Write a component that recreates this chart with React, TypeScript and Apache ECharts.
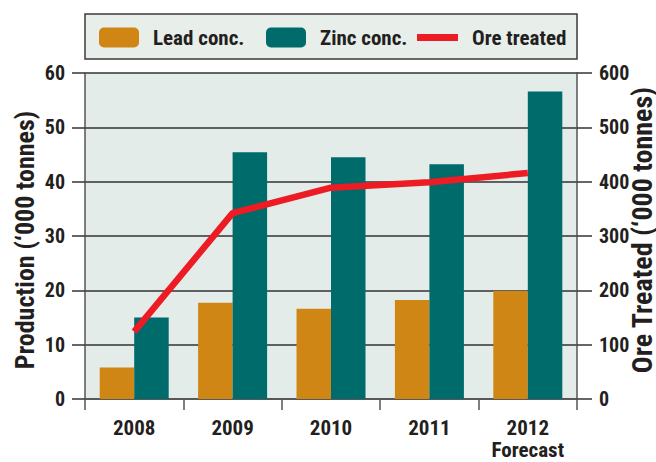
import React, { useEffect, useRef } from "react";
import * as echarts from "echarts";

const years = ["2008", "2009", "2010", "2011", "2012\nForecast"];
const leadConc = [5.8, 17.7, 16.6, 18.2, 19.9];
const zincConc = [15.0, 45.4, 44.5, 43.2, 56.6];
const oreTreated = [124, 342, 389, 399, 416];
const leftTicks = { min: 0, max: 60, interval: 10 };
const rightTicks = { min: 0, max: 600, interval: 100 };

const FONT = "'Roboto Condensed', 'Liberation Sans Narrow', 'Arial Narrow', 'DejaVu Sans Condensed', sans-serif";
const TXT = "#231f20";
const LEAD = "#cf8614";
const ZINC = "#006b6b";
const ORE = "#ed1c24";

export default function App() {
  const ref = useRef<HTMLDivElement>(null);
  useEffect(() => {
    if (!ref.current) return;
    const chart = echarts.init(ref.current, null, { renderer: "svg" });
    const legendText = { fontFamily: FONT, fontWeight: "bold", fontSize: 21, color: TXT, padding: [0, 0, 0, 9] };
    chart.setOption({
      animation: false,
      graphic: [
        {
          type: "rect",
          shape: { x: 85, y: 14, width: 492, height: 45 },
          style: { fill: "#e8eeea", stroke: "#3a3a3a", lineWidth: 1.5 },
          z: -1,
        },
      ],
      legend: [
        { data: ["Lead conc."], left: 94, top: 22, itemWidth: 40, itemHeight: 20, textStyle: legendText, padding: 5 },
        { data: ["Zinc conc."], left: 261, top: 22, itemWidth: 40, itemHeight: 20, textStyle: legendText, padding: 5 },
        {
          data: [{ name: "Ore treated", icon: "path://M0 0H41V7H0Z" }],
          left: 412, top: 22, itemWidth: 41, itemHeight: 20, textStyle: legendText, padding: 5,
        },
      ],
      grid: {
        left: 85, right: 79, top: 73, bottom: 63,
        show: true, backgroundColor: "#e3ece8", borderWidth: 0,
        outerBoundsMode: "none",
        containLabel: false,
      },
      xAxis: {
        type: "category",
        data: years,
        axisLine: { show: true, lineStyle: { color: "#555", width: 1.5 } },
        axisTick: { show: true, length: 11, alignWithLabel: false, lineStyle: { color: "#555", width: 1.5 } },
        axisLabel: { interval: 0, fontFamily: FONT, fontWeight: "bold", fontSize: 21, color: TXT, margin: 18, lineHeight: 22 },
      },
      yAxis: [
        {
          type: "value",
          ...leftTicks,
          position: "left",
          name: "Production (‘000 tonnes)",
          nameLocation: "middle",
          nameRotate: 90,
          nameGap: 47,
          nameMoveOverlap: false,
          nameTextStyle: { fontFamily: FONT, fontWeight: "bold", fontSize: 26, color: TXT, padding: [0, 8, 0, 0] },
          axisLine: { show: true, lineStyle: { color: "#555", width: 1.5 } },
          axisTick: { show: true, length: 13, lineStyle: { color: "#333", width: 1.5 } },
          splitLine: { show: true, lineStyle: { color: "#333", width: 1.5 } },
          axisLabel: { fontFamily: FONT, fontWeight: "bold", fontSize: 20, color: TXT, margin: 20 },
        },
        {
          type: "value",
          ...rightTicks,
          position: "right",
          name: "Ore Treated (‘000 tonnes)",
          nameLocation: "middle",
          nameRotate: 90,
          nameGap: 51,
          nameMoveOverlap: false,
          nameTextStyle: { fontFamily: FONT, fontWeight: "bold", fontSize: 28, color: TXT, padding: [0, 0, 0, 12] },
          axisLine: { show: true, lineStyle: { color: "#555", width: 1.5 } },
          axisTick: { show: true, length: 15, lineStyle: { color: "#333", width: 1.5 } },
          splitLine: { show: false },
          axisLabel: { fontFamily: FONT, fontWeight: "bold", fontSize: 20, color: TXT, margin: 22 },
        },
      ],
      series: [
        {
          name: "Lead conc.",
          type: "bar",
          data: leadConc,
          barWidth: 34.5,
          barGap: "0%",
          itemStyle: { color: LEAD },
        },
        {
          name: "Zinc conc.",
          type: "bar",
          data: zincConc,
          barWidth: 34.5,
          barGap: "0%",
          itemStyle: { color: ZINC },
        },
        {
          name: "Ore treated",
          type: "line",
          yAxisIndex: 1,
          data: oreTreated,
          showSymbol: false,
          symbol: "none",
          lineStyle: { color: ORE, width: 6.5 },
          itemStyle: { color: ORE },
          z: 5,
        },
      ],
    });
    return () => chart.dispose();
  }, []);
  return (
    <div
      ref={ref}
      style={{ position: "fixed", left: 0, top: 0, width: 656, height: 462, background: "#fff" }}
    />
  );
}
